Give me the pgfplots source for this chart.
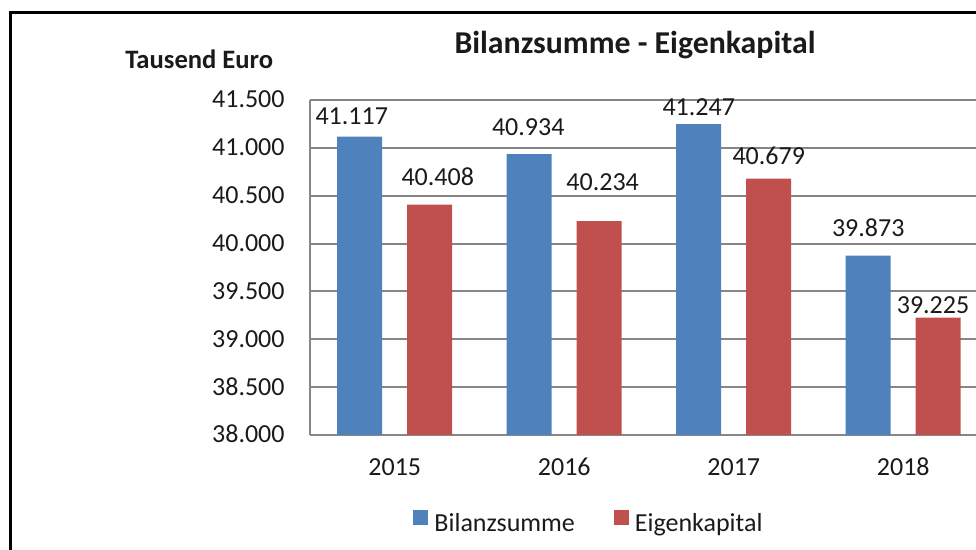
\documentclass[border=0pt]{standalone}
\usepackage{pgfplots}
\pgfplotsset{compat=1.18}
\usepackage{pgfplotstable}
\usepackage{fontspec}
\setmainfont{Carlito}
\definecolor{barblue}{HTML}{4F81BD}
\definecolor{barred}{HTML}{C0504D}
\definecolor{gridgray}{HTML}{868686}
\definecolor{txt}{HTML}{1A1A1A}

\pgfplotstableread{
x y dx dy
0 41117 -4 6.3
1 40934 -0.5 9.5
2 41247 0 4.5
3 39873 0 9.5
}\bilanz
\pgfplotstableread{
x y dx dy
0 40408 4 9.5
1 40234 1.7 15.3
2 40679 0 7
3 39225 -2.6 2.2
}\eigen

\newcommand{\rfont}{\fontsize{13}{15}\selectfont}

\begin{document}
\begin{tikzpicture}
\useasboundingbox (0pt,0pt) rectangle (488pt,275pt);
\clip (0pt,0pt) rectangle (488pt,275pt);
\draw[line width=1.5pt] (5.25pt,268.5pt) rectangle (600pt,-50pt);
\node[font=\fontsize{15.9}{19}\selectfont\bfseries, anchor=base, inner sep=0pt, text=txt] at (317.5pt,248pt) {Bilanzsumme - Eigenkapital};
\node[font=\fontsize{13.3}{15}\selectfont\bfseries, anchor=base, inner sep=0pt, text=txt] at (99.6pt,240.85pt) {Tausend Euro};
\begin{axis}[
  at={(155pt,57.5pt)}, anchor=south west,
  width=339pt, height=167.5pt, scale only axis,
  xmin=-0.5, xmax=3.5, ymin=38000, ymax=41500,
  ytick={38000,38500,...,41500},
  xtick={0,1,2,3}, xticklabels={2015,2016,2017,2018},
  scaled y ticks=false,
  /pgf/number format/.cd, fixed, precision=0, 1000 sep={.}, assume math mode=true,
  /pgfplots/.cd,
  ymajorgrids,
  major grid style={gridgray, line width=1pt},
  axis x line*=bottom, axis y line*=left,
  axis line style={gridgray, line width=1pt, -},
  major tick length=0pt,
  tick style={draw=none},
  ticklabel style={font=\rfont, inner sep=0pt, text=txt},
  yticklabel style={anchor=base east, xshift=-12.5pt, yshift=-4pt},
  xticklabel style={anchor=base, yshift=-20.5pt},
  ybar, bar width=22.5pt,
  legend columns=2,
  legend style={draw=none, fill=none, inner sep=0pt, font=\rfont, text=txt,
    at={(axis description cs:0.152,-0.261)}, anchor=west,
    nodes={inner sep=0pt},
    /tikz/every even column/.append style={column sep=19.5pt},
    /tikz/every odd column/.append style={column sep=3pt}},
  nodes near coords,
  visualization depends on={\thisrow{dx} \as \dx},
  visualization depends on={\thisrow{dy} \as \dy},
  nodes near coords style={anchor=base, inner sep=0pt, font=\rfont, text=txt,
    xshift=\dx pt, yshift=\dy pt},
]
\addplot[fill=barblue, draw=none, bar shift=-17.5pt,
  legend image code/.code={\fill[barblue] (0pt,-0.5pt) rectangle (7.5pt,7pt);}]
  table[x=x,y=y] {\bilanz};
\addlegendentry{Bilanzsumme}
\addplot[fill=barred, draw=none, bar shift=17.5pt,
  legend image code/.code={\fill[barred] (0pt,-0.5pt) rectangle (7.5pt,7pt);}]
  table[x=x,y=y] {\eigen};
\addlegendentry{Eigenkapital}
\end{axis}
\end{tikzpicture}
\end{document}
